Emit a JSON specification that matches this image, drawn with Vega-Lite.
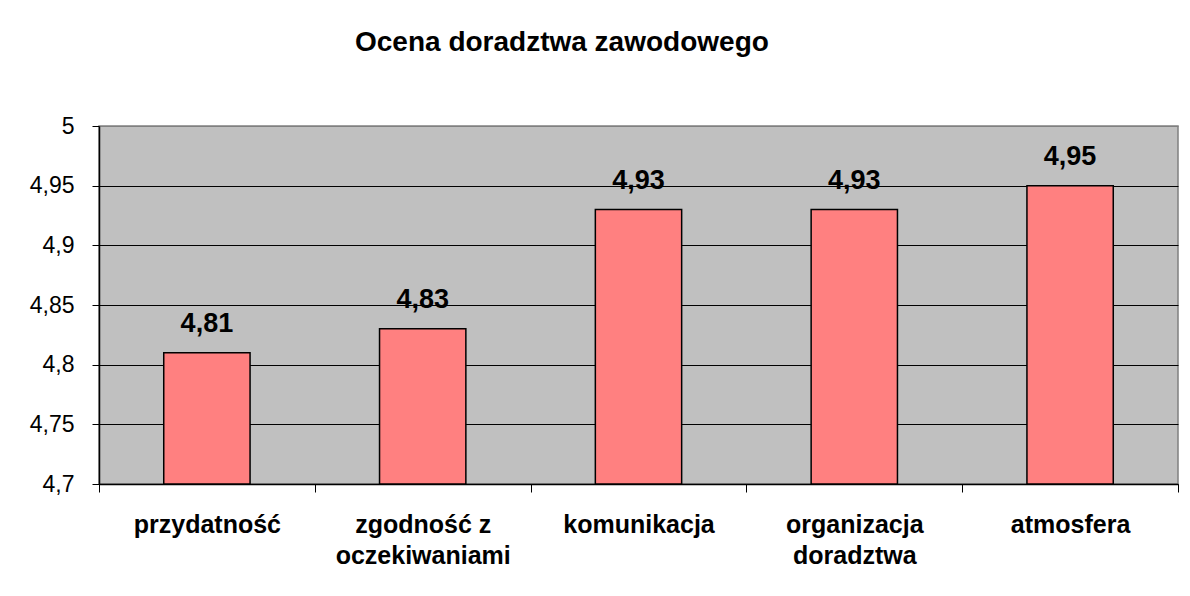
{
  "$schema": "https://vega.github.io/schema/vega-lite/v6.json",
  "width": 1079,
  "height": 358,
  "autosize": {"type": "none"},
  "padding": {"left": 99, "top": 126, "right": 12, "bottom": 112},
  "background": "white",
  "title": {
    "text": "Ocena doradztwa zawodowego",
    "anchor": "start",
    "frame": "group",
    "dx": 256,
    "offset": 58,
    "fontSize": 28,
    "fontWeight": "bold",
    "font": "Liberation Sans",
    "color": "black"
  },
  "data": {
    "values": [
      {"kategoria": "przydatność", "ocena": 4.81},
      {"kategoria": "zgodność z oczekiwaniami", "ocena": 4.83},
      {"kategoria": "komunikacja", "ocena": 4.93},
      {"kategoria": "organizacja doradztwa", "ocena": 4.93},
      {"kategoria": "atmosfera", "ocena": 4.95}
    ]
  },
  "encoding": {
    "x": {
      "field": "kategoria",
      "type": "nominal",
      "sort": null,
      "scale": {"paddingInner": 0, "paddingOuter": 0},
      "axis": {
        "title": null,
        "labelAngle": 0,
        "labelFont": "Liberation Sans",
        "labelFontSize": 25,
        "labelFontWeight": "bold",
        "labelColor": "black",
        "labelLineHeight": 31,
        "labelPadding": 20,
        "tickBand": "extent",
        "tickSize": 8,
        "tickColor": "black",
        "domainColor": "black",
        "domainWidth": 1.5,
        "grid": false,
        "labelExpr": "datum.value == 'zgodność z oczekiwaniami' ? ['zgodność z', 'oczekiwaniami'] : datum.value == 'organizacja doradztwa' ? ['organizacja', 'doradztwa'] : datum.value"
      }
    },
    "y": {
      "field": "ocena",
      "type": "quantitative",
      "scale": {"domain": [4.7, 5], "zero": false, "nice": false},
      "axis": {
        "title": null,
        "values": [4.7, 4.75, 4.8, 4.85, 4.9, 4.95, 5],
        "format": ".2~f",
        "labelFont": "Liberation Sans",
        "labelFontSize": 23,
        "labelColor": "black",
        "labelPadding": 18,
        "tickSize": 7,
        "tickColor": "black",
        "domainColor": "black",
        "domainWidth": 1.5,
        "grid": true,
        "gridColor": {"condition": {"test": "datum.value >= 5", "value": "#808080"}, "value": "black"},
        "gridWidth": 1
      }
    }
  },
  "layer": [
    {
      "mark": {"type": "bar", "width": {"band": 0.4}, "fill": "#FF8080", "stroke": "black", "strokeWidth": 1.5},
      "encoding": {"y2": {"datum": 4.7}}
    },
    {
      "mark": {"type": "text", "baseline": "alphabetic", "dy": -21, "font": "Liberation Sans", "fontSize": 27, "fontWeight": "bold", "color": "black"},
      "encoding": {"text": {"field": "ocena", "type": "quantitative", "format": ".2f"}}
    }
  ],
  "config": {
    "locale": {"number": {"decimal": ",", "thousands": " ", "grouping": [3], "currency": ["", " zł"]}},
    "view": {"fill": "#C0C0C0", "stroke": "#808080", "strokeWidth": 1.5}
  }
}
